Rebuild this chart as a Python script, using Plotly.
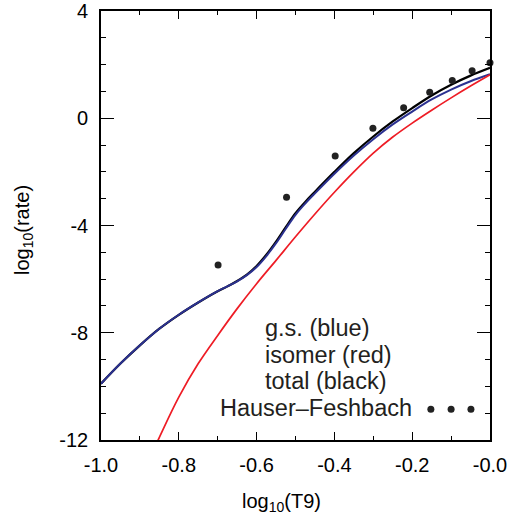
import plotly.graph_objects as go

# ---------------- data ----------------
x_gs = [-1.0, -0.95, -0.90, -0.85, -0.80, -0.75, -0.70, -0.675, -0.65, -0.625, -0.60, -0.575,
        -0.55, -0.525, -0.50, -0.475, -0.45, -0.40, -0.35, -0.30, -0.25, -0.20, -0.15, -0.10, -0.05, 0.0]
y_gs = [-9.9, -9.15, -8.47, -7.85, -7.33, -6.87, -6.45, -6.27, -6.08, -5.85, -5.55, -5.14,
        -4.66, -4.12, -3.6, -3.18, -2.8, -2.07, -1.39, -0.78, -0.23, 0.25, 0.7, 1.07, 1.38, 1.64]

x_total = [-1.0, -0.95, -0.90, -0.85, -0.80, -0.75, -0.70, -0.675, -0.65, -0.625, -0.60, -0.575,
           -0.55, -0.525, -0.50, -0.475, -0.45, -0.40, -0.35, -0.30, -0.25, -0.20, -0.15, -0.10, -0.05, 0.0]
y_total = [-9.9, -9.15, -8.47, -7.85, -7.33, -6.87, -6.45, -6.27, -6.07, -5.83, -5.51, -5.09,
           -4.6, -4.06, -3.54, -3.12, -2.74, -2.0, -1.3, -0.68, -0.12, 0.38, 0.85, 1.25, 1.59, 1.88]

x_iso = [-0.90, -0.85, -0.80, -0.75, -0.70, -0.65, -0.60, -0.55, -0.50, -0.45, -0.40,
         -0.35, -0.30, -0.25, -0.20, -0.15, -0.10, -0.05, 0.0]
y_iso = [-13.5, -11.9, -10.4, -9.15, -8.1, -7.1, -6.17, -5.3, -4.42, -3.57, -2.76,
         -2.0, -1.3, -0.7, -0.18, 0.3, 0.76, 1.2, 1.62]

x_hf = [-0.699, -0.523, -0.398, -0.301, -0.222, -0.155, -0.097, -0.046, 0.0]
y_hf = [-5.47, -2.95, -1.41, -0.37, 0.39, 0.97, 1.41, 1.77, 2.07]

x_tickvals = [-1.0, -0.8, -0.6, -0.4, -0.2, 0.0]
x_ticktext = ["-1.0", "-0.8", "-0.6", "-0.4", "-0.2", "-0.0"]
y_tickvals = [4, 0, -4, -8, -12]
y_ticktext = ["4", "0", "-4", "-8", "-12"]

legend_lines = ["g.s. (blue)", "isomer (red)", "total (black)"]
legend_hf = "Hauser\u2013Feshbach"
legend_dot_x = [-0.152, -0.100, -0.049]
legend_dot_y = [-10.85, -10.85, -10.85]

# ---------------- layout geometry ----------------
W, H = 509, 520
L, R, T, B = 101, 490, 11, 440
FONT = "Arial, Liberation Sans, Helvetica, sans-serif"


def px(xp):
    """page pixel x -> paper coordinate"""
    return (xp - L) / (R - L)


def py(yp):
    """page pixel y -> paper coordinate"""
    return (B - yp) / (B - T)


fig = go.Figure()

fig.add_trace(go.Scatter(x=x_total, y=y_total, mode="lines", line=dict(color="#000000", width=2.2, shape="spline", smoothing=1.0),
                         hoverinfo="skip", showlegend=False))
fig.add_trace(go.Scatter(x=x_gs, y=y_gs, mode="lines", line=dict(color="#2b3190", width=2.0, shape="spline", smoothing=1.0),
                         hoverinfo="skip", showlegend=False))
fig.add_trace(go.Scatter(x=x_iso, y=y_iso, mode="lines", line=dict(color="#ee1c25", width=1.7, shape="spline", smoothing=1.0),
                         hoverinfo="skip", showlegend=False))
fig.add_trace(go.Scatter(x=x_hf, y=y_hf, mode="markers", marker=dict(color="#222222", size=7),
                         cliponaxis=False, hoverinfo="skip", showlegend=False))
fig.add_trace(go.Scatter(x=legend_dot_x, y=legend_dot_y, mode="markers", marker=dict(color="#222222", size=7),
                         hoverinfo="skip", showlegend=False))

annotations = []
for i, txt in enumerate(legend_lines):
    annotations.append(dict(x=px(263), y=py(328 + 26.5 * i), xref="paper", yref="paper", text=txt,
                            showarrow=False, xanchor="left", yanchor="middle",
                            font=dict(family=FONT, size=23.5, color="#231f20")))
annotations.append(dict(x=px(218), y=py(408), xref="paper", yref="paper", text=legend_hf,
                        showarrow=False, xanchor="left", yanchor="middle",
                        font=dict(family=FONT, size=23.5, color="#231f20")))
annotations.append(dict(x=px(281), y=py(502), xref="paper", yref="paper", text="log<sub>10</sub>(T9)",
                        showarrow=False, xanchor="center", yanchor="middle",
                        font=dict(family=FONT, size=20, color="#000000")))
annotations.append(dict(x=px(24), y=py(230), xref="paper", yref="paper", text="log<sub>10</sub>(rate)",
                        showarrow=False, xanchor="center", yanchor="middle", textangle=-90,
                        font=dict(family=FONT, size=20, color="#000000")))

fig.update_layout(
    width=W, height=H,
    margin=dict(l=L, r=W - R, t=T, b=H - B, pad=0, autoexpand=False),
    paper_bgcolor="white", plot_bgcolor="white",
    showlegend=False,
    annotations=annotations,
    font=dict(family=FONT, size=20, color="#000000"),
)

fig.update_xaxes(range=[-1.0, 0.0], tickvals=x_tickvals, ticktext=x_ticktext,
                 ticks="inside", ticklen=8, tickwidth=1.3, tickcolor="black",
                 minor=dict(dtick=0.1, tick0=0, ticks="inside", ticklen=4, tickwidth=1.3, tickcolor="black"),
                 showline=True, linecolor="black", linewidth=1.6, mirror="ticks",
                 showgrid=False, zeroline=False, ticklabelstandoff=6,
                 tickfont=dict(family=FONT, size=20, color="#000000"))
fig.update_yaxes(range=[-12, 4], tickvals=y_tickvals, ticktext=y_ticktext,
                 ticks="inside", ticklen=13, tickwidth=1.3, tickcolor="black",
                 minor=dict(dtick=1, tick0=0, ticks="inside", ticklen=5, tickwidth=1.3, tickcolor="black"),
                 showline=True, linecolor="black", linewidth=1.6, mirror="ticks",
                 showgrid=False, zeroline=False, ticklabelstandoff=7,
                 tickfont=dict(family=FONT, size=20, color="#000000"))

# remove the default 8px page margin so the 509x520 figure fills the window exactly
page_js = "document.body.style.margin='0px';document.documentElement.style.overflow='hidden';"
fig.write_html("out.html", post_script=page_js, config={"displayModeBar": False})
